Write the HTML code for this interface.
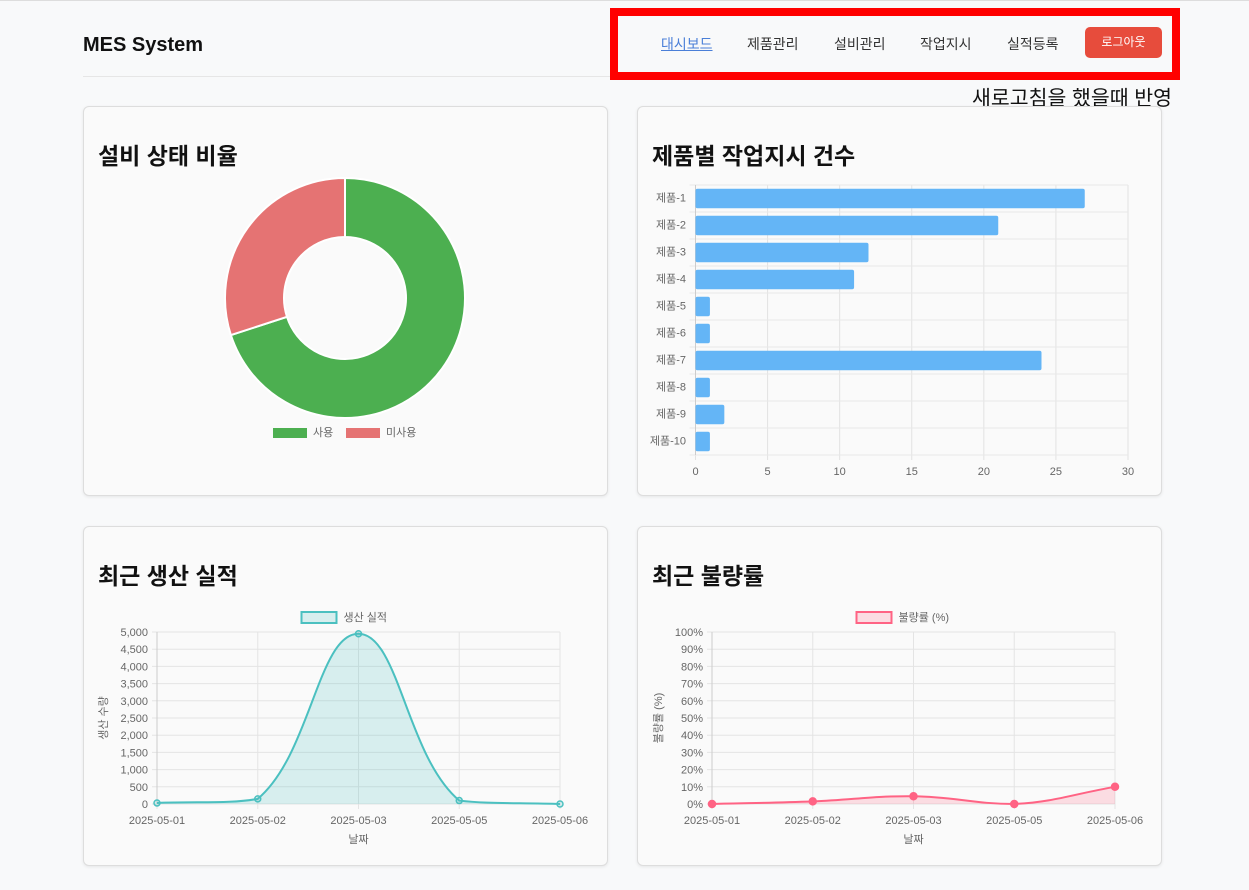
<!DOCTYPE html>
<html><head><meta charset="utf-8">
<style>
html,body{margin:0;padding:0;}
body{width:1249px;height:890px;background:#f8f9fa;position:relative;overflow:hidden;font-family:"Liberation Sans","Noto Sans CJK KR",sans-serif;color:#222;}
.topline{position:absolute;left:0;top:0;width:1249px;height:1px;background:#ddd;}
.brand{position:absolute;left:83px;top:34px;font-size:20px;font-weight:bold;color:#111;}
.hline{position:absolute;left:83px;top:76px;width:1080px;height:1px;background:#e6e6e6;}
.redbox{position:absolute;left:610px;top:8px;width:554px;height:56px;border:8px solid #ff0000;}
.nav{position:absolute;top:34px;font-size:14px;color:#333;}
.nav.active{color:#4a7fd8;text-decoration:underline;}
.logout{position:absolute;left:1085px;top:27px;width:77px;height:31px;background:#e74c3c;color:#fff;border-radius:5px;font-size:12px;text-align:center;line-height:31px;}
.note{position:absolute;left:972px;top:87px;font-size:20.5px;color:#111;line-height:24px;}
.card{position:absolute;background:#fafafa;border:1px solid #ddd;border-radius:6px;box-shadow:0 1px 3px rgba(0,0,0,0.08);}
.title{position:absolute;font-size:23px;font-weight:bold;color:#111;}
svg text{font-family:"Liberation Sans","Noto Sans CJK KR",sans-serif;fill:#666;font-size:11px;}
</style></head><body>
<div class="topline"></div>
<div class="brand">MES System</div>
<div class="hline"></div>
<div class="redbox"></div>
<span class="nav active" style="left:661px">대시보드</span>
<span class="nav" style="left:747px">제품관리</span>
<span class="nav" style="left:834px">설비관리</span>
<span class="nav" style="left:920px">작업지시</span>
<span class="nav" style="left:1007px">실적등록</span>
<div class="logout">로그아웃</div>
<div class="note">새로고침을 했을때 반영</div>

<div class="card" style="left:83px;top:106px;width:523px;height:388px"></div>
<div class="card" style="left:637px;top:106px;width:523px;height:388px"></div>
<div class="card" style="left:83px;top:526px;width:523px;height:338px"></div>
<div class="card" style="left:637px;top:526px;width:523px;height:338px"></div>
<div class="title" style="left:98px;top:137px">설비 상태 비율</div>
<div class="title" style="left:652px;top:137px">제품별 작업지시 건수</div>
<div class="title" style="left:98px;top:557px">최근 생산 실적</div>
<div class="title" style="left:652px;top:557px">최근 불량률</div>

<svg id="svg" width="1249" height="890" style="position:absolute;left:0;top:0"></svg>
<script>
const donutLabels=["사용","미사용"];
const donutValues=[7,3];
const donutColors=["#4caf50","#e57373"];
const barCats=["제품-1","제품-2","제품-3","제품-4","제품-5","제품-6","제품-7","제품-8","제품-9","제품-10"];
const barValues=[27,21,12,11,1,1,24,1,2,1];
const barTicks=[0,5,10,15,20,25,30];
const dates=["2025-05-01","2025-05-02","2025-05-03","2025-05-05","2025-05-06"];
const prodValues=[30,150,4950,100,0];
const prodTicks=[0,500,1000,1500,2000,2500,3000,3500,4000,4500,5000];
const defectValues=[0,1.5,4.5,0,10];
const defectTicks=[0,10,20,30,40,50,60,70,80,90,100];

const S=document.getElementById('svg');
const NS='http://www.w3.org/2000/svg';
function mk(tag,attrs,parent){const e=document.createElementNS(NS,tag);for(const k in attrs)e.setAttribute(k,attrs[k]);(parent||S).appendChild(e);return e;}
function tx(x,y,s,anchor,extra){const t=mk('text',Object.assign({x:x,y:y,'text-anchor':anchor||'middle'},extra||{}));t.textContent=s;return t;}

// Donut
(function(){
  const cx=345,cy=298,R=120,r=61;
  const tot=donutValues.reduce((a,b)=>a+b,0);
  let a0=-Math.PI/2;
  donutValues.forEach((v,i)=>{
    const a1=a0+v/tot*2*Math.PI;const lg=(a1-a0)>Math.PI?1:0;
    const p=[cx+R*Math.cos(a0),cy+R*Math.sin(a0),cx+R*Math.cos(a1),cy+R*Math.sin(a1),cx+r*Math.cos(a1),cy+r*Math.sin(a1),cx+r*Math.cos(a0),cy+r*Math.sin(a0)];
    const e=mk('path',{d:`M${p[0]} ${p[1]}A${R} ${R} 0 ${lg} 1 ${p[2]} ${p[3]}L${p[4]} ${p[5]}A${r} ${r} 0 ${lg} 0 ${p[6]} ${p[7]}Z`,fill:donutColors[i],stroke:'#fff','stroke-width':2});
    
    
    a0=a1;
  });
  const lx=[273,346];
  donutLabels.forEach((l,i)=>{
    const b=mk('rect',{x:lx[i],y:428,width:34,height:10,fill:donutColors[i]});
    
    
    tx(lx[i]+40,436,l,'start');
  });
})();

// Bar chart
(function(){
  const x0=695.5,x1=1128,y0=185,y1=455;
  const xs=v=>x0+(x1-x0)*v/30;
  const rh=(y1-y0)/barCats.length;
  barTicks.forEach(t=>{mk('line',{x1:xs(t),x2:xs(t),y1:y0,y2:y1+5,stroke:'#e2e2e2'});tx(xs(t),475,t);});
  for(let i=0;i<=barCats.length;i++)mk('line',{x1:x0-6,x2:x1,y1:y0+i*rh,y2:y0+i*rh,stroke:'#e8e8e8'});
  mk('line',{x1:x0,x2:x0,y1:y0,y2:y1,stroke:'#ccc'});
  barCats.forEach((c,i)=>{
    const b=mk('rect',{x:x0,y:y0+i*rh+3.7,width:xs(barValues[i])-x0,height:rh-7.4,rx:2,fill:'#64b5f6'});
    
    
    tx(686,y0+i*rh+rh/2+3,c,'end',{'font-size':9.5});
  });
})();

// Line charts
function spline(pts,ymin,ymax){
  const t=0.4;let d=`M${pts[0][0]} ${pts[0][1]}`;
  const cl=v=>Math.max(ymin,Math.min(ymax,v));
  const cps=pts.map((p,i)=>{
    const pr=pts[Math.max(0,i-1)],nx=pts[Math.min(pts.length-1,i+1)];
    const d01=Math.hypot(p[0]-pr[0],p[1]-pr[1]),d12=Math.hypot(nx[0]-p[0],nx[1]-p[1]);
    let fa=d01/(d01+d12||1),fb=d12/(d01+d12||1);fa*=t;fb*=t;
    return [[p[0]-fa*(nx[0]-pr[0]),cl(p[1]-fa*(nx[1]-pr[1]))],[p[0]+fb*(nx[0]-pr[0]),cl(p[1]+fb*(nx[1]-pr[1]))]];
  });
  for(let i=1;i<pts.length;i++){const a=cps[i-1][1],b=cps[i][0];d+=`C${a[0]} ${a[1]} ${b[0]} ${b[1]} ${pts[i][0]} ${pts[i][1]}`;}
  return d;
}
function lineChart(o){
  const {x0,x1,y0,y1,max,vals,ticks,fmt,color,fill,legend,ytitle,name,ptR}=o;
  const xs=i=>x0+(x1-x0)*i/(dates.length-1);
  const ys=v=>y1-(y1-y0)*v/max;
  ticks.forEach(t=>{mk('line',{x1:x0-5,x2:x1,y1:ys(t),y2:ys(t),stroke:'#e4e4e4'});tx(x0-9,ys(t)+4,fmt(t),'end');});
  dates.forEach((d,i)=>{mk('line',{x1:xs(i),x2:xs(i),y1:y0,y2:y1+5,stroke:'#e4e4e4'});tx(xs(i),824,d);});
  mk('line',{x1:x0,x2:x0,y1:y0,y2:y1,stroke:'#ccc'});
  const pts=vals.map((v,i)=>[xs(i),ys(v)]);
  const sp=spline(pts,y0,y1);
  const a=mk('path',{d:sp+`L${x1} ${y1}L${x0} ${y1}Z`,fill:fill});
  
  
  const l=mk('path',{d:sp,fill:'none',stroke:color,'stroke-width':2});
  
  
  pts.forEach(p=>{const c=mk('circle',{cx:p[0],cy:p[1],r:ptR,fill:o.ptFill,stroke:color,'stroke-width':1.5});
    
    });
  const lgx=(x0+x1)/2;
  const lb=mk('rect',{x:lgx-57,y:612,width:35,height:11,fill:fill,stroke:color,'stroke-width':2});
  
  
  tx(lgx-15,621,legend,'start',{'font-size':10.5});
  tx((x0+x1)/2,843,'날짜','middle');
  tx(0,0,ytitle,'middle',{transform:`translate(${o.ytx},${(y0+y1)/2}) rotate(-90)`,'font-size':10});
}
lineChart({x0:157,x1:560,y0:632,y1:804,max:5000,vals:prodValues,ticks:prodTicks,fmt:t=>t.toLocaleString('en-US'),color:'#4bc0c0',fill:'rgba(75,192,192,0.2)',ptFill:'rgba(75,192,192,0.2)',legend:'생산 실적',ytitle:'생산 수량',name:'production',ptR:3,ytx:107});
lineChart({x0:712,x1:1115,y0:632,y1:804,max:100,vals:defectValues,ticks:defectTicks,fmt:t=>t+'%',color:'#ff6384',fill:'rgba(255,99,132,0.2)',ptFill:'#ff6384',legend:'불량률 (%)',ytitle:'불량률 (%)',name:'defect',ptR:3.5,ytx:662});
</script>
</body></html>
